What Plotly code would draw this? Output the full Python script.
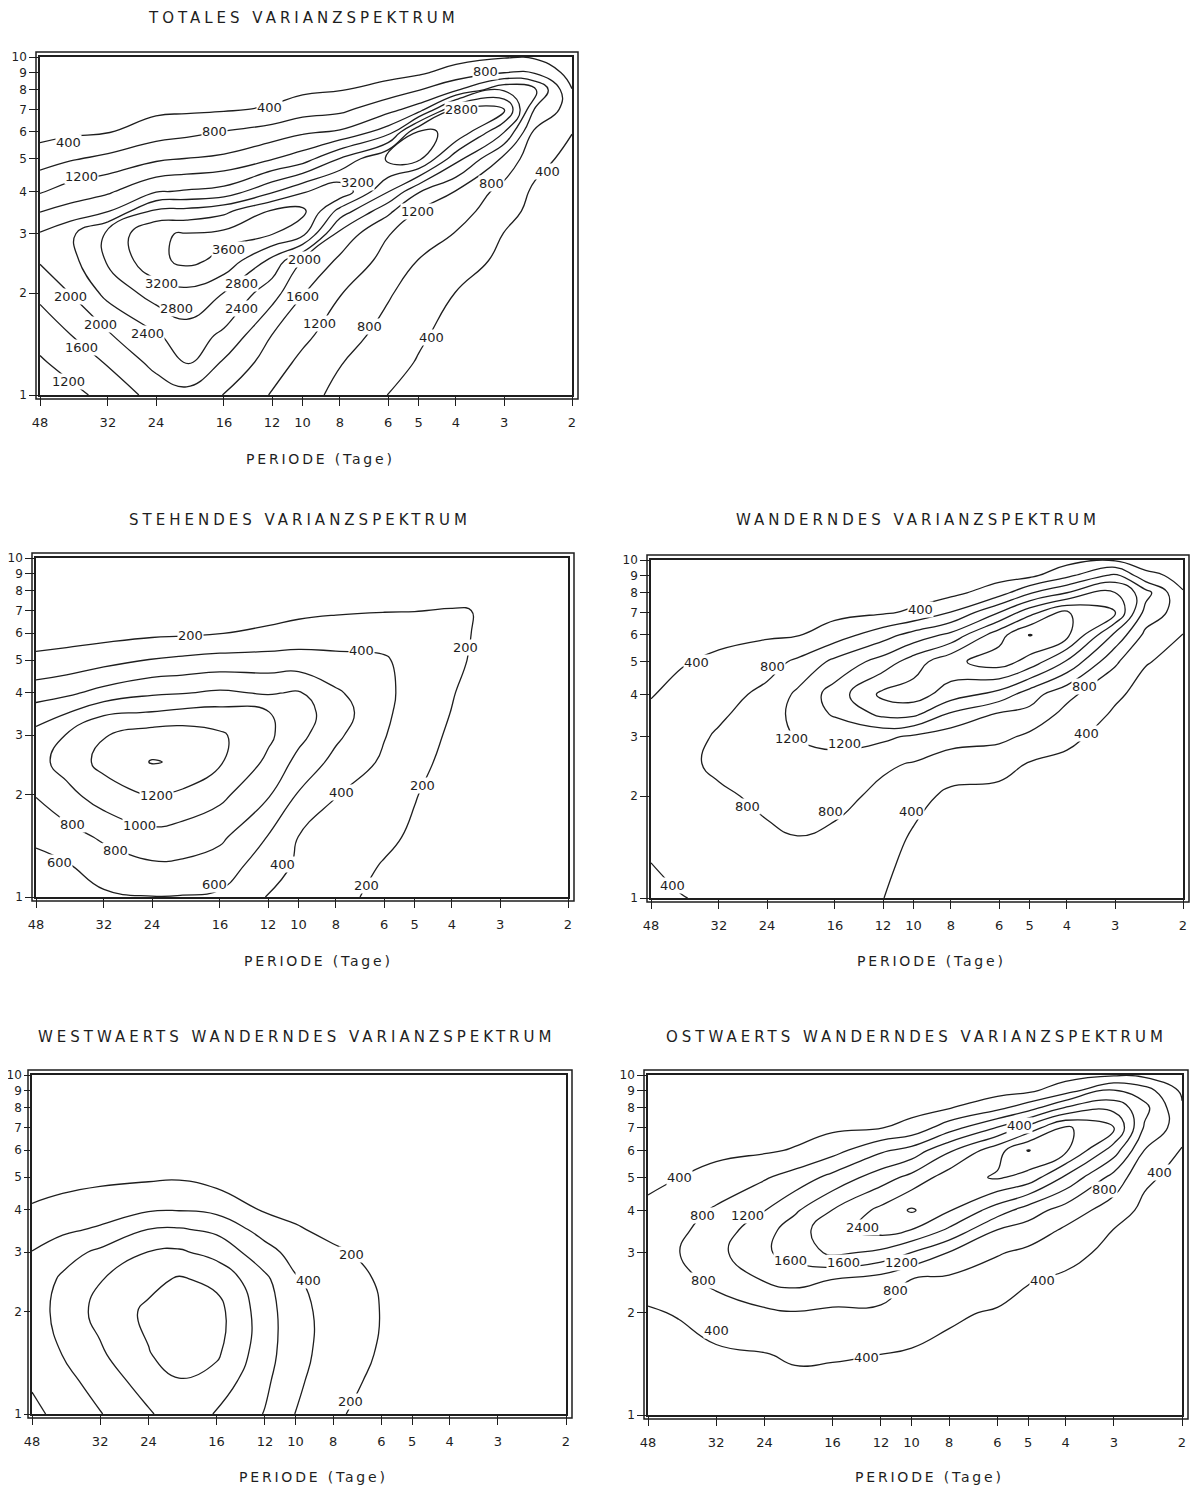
import math
import plotly.graph_objects as go

PAGE_W, PAGE_H = 1199, 1489
BODY_MARGIN = 8                      # default page margin around the plot div
W, H = PAGE_W - BODY_MARGIN, PAGE_H - BODY_MARGIN
INK = "#1e1e1e"
FONT = "DejaVu Sans"

# ---- grid of the spectra (period in days, zonal wavenumber) ----
PERIODS = [48, 40, 32, 24, 20, 16, 12, 10, 8, 6, 5, 4, 3, 2.5, 2]
WAVENUMBERS = [1, 1.25, 1.5, 2, 2.5, 3, 3.5, 4, 5, 6, 7, 8, 9, 10]
PERIOD_TICKS = [48, 32, 24, 16, 12, 10, 8, 6, 5, 4, 3, 2]
WAVE_TICKS = [1, 2, 3, 4, 5, 6, 7, 8, 9, 10]

# each inner list = one period column, values over WAVENUMBERS
TOTAL_COLUMNS = [
    [950, 1150, 1350, 1690, 2040, 2030, 1580, 1160, 610, 260, 200, 130, 80, 50],
    [1080, 1360, 1590, 2010, 2270, 2320, 1750, 1380, 760, 330, 250, 170, 100, 60],
    [1330, 1640, 1950, 2515, 2850, 2880, 1970, 1540, 900, 380, 280, 200, 120, 70],
    [1750, 2130, 2350, 2970, 3500, 3570, 2886, 1967, 1130, 622, 310, 220, 130, 80],
    [1850, 2450, 2620, 3090, 3700, 3620, 2920, 2040, 1210, 695, 330, 240, 140, 90],
    [1590, 1950, 2320, 2790, 3500, 3700, 3100, 2140, 1280, 820, 360, 260, 150, 100],
    [1170, 1400, 1590, 2160, 2690, 3620, 3650, 2740, 1580, 980, 440, 280, 170, 110],
    [950, 1100, 1300, 1620, 1990, 3330, 3700, 3150, 1800, 1140, 620, 320, 190, 120],
    [690, 820, 975, 1220, 1525, 1860, 2650, 3500, 2420, 1250, 700, 380, 220, 140],
    [395, 560, 660, 840, 1054, 1220, 1690, 2420, 3300, 1800, 1070, 575, 250, 160],
    [300, 370, 460, 620, 790, 990, 1180, 1630, 3300, 3250, 1370, 780, 330, 180],
    [150, 200, 250, 390, 610, 780, 990, 1180, 2140, 3150, 2850, 1130, 560, 250],
    [80, 110, 150, 220, 300, 390, 530, 650, 1100, 2010, 2900, 1950, 780, 370],
    [40, 60, 80, 130, 180, 240, 300, 340, 530, 730, 1180, 1650, 750, 350],
    [20, 30, 40, 70, 100, 130, 170, 210, 290, 410, 600, 410, 250, 150],
]

STANDING_COLUMNS = [
    [480, 540, 640, 810, 930, 860, 705, 500, 247, 100, 60, 40, 30, 20],
    [520, 590, 720, 940, 1080, 1010, 790, 560, 270, 120, 70, 50, 35, 25],
    [570, 700, 830, 1100, 1260, 1190, 970, 667, 330, 130, 80, 60, 40, 30],
    [595, 780, 930, 1210, 1410, 1300, 1010, 770, 410, 160, 100, 70, 50, 35],
    [590, 775, 900, 1160, 1380, 1310, 1050, 790, 440, 170, 110, 80, 55, 40],
    [570, 710, 840, 1050, 1220, 1230, 1070, 830, 470, 195, 120, 90, 60, 45],
    [390, 500, 590, 820, 960, 1040, 1010, 780, 480, 230, 140, 100, 70, 50],
    [340, 370, 395, 580, 740, 860, 890, 820, 480, 280, 150, 110, 75, 55],
    [250, 290, 330, 405, 540, 640, 700, 630, 440, 320, 170, 120, 80, 60],
    [150, 190, 240, 320, 370, 410, 440, 450, 420, 320, 190, 140, 100, 70],
    [110, 140, 170, 210, 260, 290, 300, 320, 330, 300, 195, 130, 90, 60],
    [60, 80, 90, 110, 140, 170, 195, 210, 250, 260, 210, 120, 80, 50],
    [30, 35, 40, 45, 50, 55, 60, 70, 90, 110, 185, 110, 80, 50],
    [25, 30, 35, 40, 45, 50, 55, 60, 70, 80, 100, 80, 60, 40],
    [20, 25, 30, 35, 40, 45, 50, 55, 60, 65, 70, 60, 45, 30],
]

TRAVELLING_COLUMNS = [
    [350, 395, 450, 520, 560, 530, 470, 380, 250, 150, 100, 70, 50, 30],
    [390, 480, 560, 640, 680, 640, 580, 520, 370, 230, 140, 90, 60, 40],
    [450, 520, 600, 720, 900, 850, 740, 650, 480, 300, 180, 110, 70, 50],
    [520, 610, 720, 900, 1050, 1080, 1000, 900, 650, 350, 230, 140, 90, 60],
    [580, 680, 790, 950, 1080, 1220, 1330, 1280, 870, 380, 260, 160, 100, 70],
    [560, 650, 730, 900, 1120, 1280, 1650, 1780, 1300, 600, 290, 180, 120, 80],
    [405, 470, 560, 720, 850, 1290, 2100, 2500, 1770, 1030, 350, 220, 140, 90],
    [250, 300, 350, 520, 780, 1130, 2100, 2590, 2200, 1350, 460, 240, 150, 100],
    [150, 180, 220, 320, 590, 980, 1540, 2200, 2700, 1700, 810, 290, 170, 110],
    [150, 180, 220, 300, 520, 900, 1150, 1850, 3000, 2650, 1590, 620, 250, 150],
    [120, 150, 180, 250, 380, 720, 1080, 1380, 2650, 3220, 2250, 1150, 300, 200],
    [120, 150, 180, 250, 330, 470, 680, 900, 1950, 2900, 2850, 1600, 700, 250],
    [90, 110, 130, 170, 220, 280, 350, 460, 860, 1500, 2450, 2050, 1300, 350],
    [60, 70, 90, 110, 140, 180, 220, 280, 420, 700, 1050, 1350, 500, 200],
    [50, 60, 70, 90, 120, 150, 180, 220, 300, 390, 600, 420, 300, 150],
]

WESTWARD_COLUMNS = [
    [360, 420, 470, 500, 480, 405, 310, 215, 140, 90, 60, 40, 30, 20],
    [450, 520, 605, 670, 630, 520, 360, 250, 150, 100, 65, 45, 35, 25],
    [590, 700, 770, 860, 790, 640, 430, 300, 160, 110, 75, 50, 40, 30],
    [780, 880, 990, 1040, 940, 805, 605, 380, 170, 120, 80, 55, 45, 35],
    [890, 990, 1080, 1110, 1020, 830, 620, 390, 180, 125, 85, 60, 45, 35],
    [790, 920, 1030, 1070, 950, 730, 560, 350, 120, 90, 70, 55, 40, 30],
    [590, 640, 680, 690, 640, 480, 313, 180, 100, 80, 60, 50, 40, 30],
    [395, 440, 470, 470, 420, 320, 220, 150, 100, 75, 60, 45, 35, 25],
    [230, 280, 310, 320, 290, 230, 150, 110, 80, 60, 45, 35, 30, 20],
    [120, 150, 180, 195, 180, 140, 110, 90, 70, 50, 40, 30, 25, 20],
    [90, 110, 130, 140, 130, 110, 90, 75, 55, 40, 30, 25, 20, 15],
    [70, 85, 100, 105, 100, 85, 70, 60, 45, 35, 25, 20, 15, 12],
    [50, 60, 70, 75, 70, 60, 50, 45, 35, 25, 20, 15, 12, 10],
    [40, 50, 55, 60, 55, 50, 40, 35, 30, 20, 15, 12, 10, 8],
    [30, 40, 45, 50, 45, 40, 35, 30, 25, 15, 12, 10, 8, 6],
]

EASTWARD_COLUMNS = [
    [150, 200, 260, 370, 520, 600, 560, 470, 320, 200, 120, 80, 50, 30],
    [170, 220, 290, 420, 680, 790, 720, 620, 395, 260, 160, 100, 60, 40],
    [190, 250, 330, 610, 900, 1080, 980, 850, 540, 300, 190, 110, 70, 50],
    [220, 290, 380, 720, 1230, 1540, 1450, 1190, 760, 350, 220, 130, 80, 60],
    [240, 320, 450, 780, 1340, 1760, 1800, 1540, 960, 430, 260, 150, 90, 70],
    [240, 320, 430, 720, 1190, 2080, 2270, 2010, 1320, 650, 330, 180, 110, 80],
    [220, 300, 395, 730, 1030, 1900, 2550, 2500, 1810, 1130, 380, 230, 130, 90],
    [200, 280, 360, 600, 790, 1590, 2390, 2850, 2120, 1350, 520, 280, 150, 100],
    [170, 230, 300, 460, 720, 1180, 1930, 2430, 2600, 1940, 1020, 380, 200, 120],
    [150, 200, 260, 360, 610, 830, 1190, 1800, 2850, 2650, 1620, 700, 250, 150],
    [130, 170, 220, 300, 420, 710, 1030, 1400, 2650, 3220, 2140, 1020, 320, 200],
    [110, 140, 180, 250, 340, 520, 740, 1020, 1930, 2870, 2860, 1640, 620, 250],
    [90, 110, 130, 180, 230, 300, 390, 610, 1050, 1800, 2450, 1880, 1230, 350],
    [60, 70, 90, 110, 150, 190, 240, 300, 480, 790, 1150, 1320, 980, 300],
    [40, 50, 60, 80, 100, 120, 150, 180, 260, 370, 580, 450, 330, 200],
]

# contour labels as printed on the chart: (period, wavenumber, text)
TOTAL_LABELS = [
    (40.6, 5.57, "400"), (12.2, 7.11, "400"), (16.9, 6.04, "800"), (3.36, 9.03, "800"),
    (37.4, 4.44, "1200"), (3.86, 6.97, "2800"), (7.22, 4.24, "3200"), (5.02, 3.50, "1200"),
    (3.23, 4.21, "800"), (2.32, 4.57, "400"), (15.6, 2.70, "3600"), (9.86, 2.51, "2000"),
    (23.2, 2.14, "3200"), (14.4, 2.14, "2800"), (10.0, 1.95, "1600"), (40.1, 1.96, "2000"),
    (21.3, 1.80, "2800"), (14.4, 1.80, "2400"), (33.5, 1.62, "2000"), (9.02, 1.63, "1200"),
    (6.69, 1.60, "800"), (25.2, 1.52, "2400"), (4.62, 1.48, "400"), (37.4, 1.38, "1600"),
    (40.6, 1.10, "1200"),
]
STANDING_LABELS = [
    (19.1, 5.89, "200"), (6.85, 5.32, "400"), (3.68, 5.46, "200"), (23.3, 1.99, "1200"),
    (7.76, 2.04, "400"), (4.78, 2.13, "200"), (38.7, 1.64, "800"), (25.8, 1.63, "1000"),
    (29.8, 1.37, "800"), (41.6, 1.26, "600"), (11.0, 1.25, "400"), (16.5, 1.09, "600"),
    (6.65, 1.08, "200"),
]
TRAVELLING_LABELS = [
    (9.57, 7.16, "400"), (36.5, 4.99, "400"), (23.2, 4.83, "800"), (3.61, 4.21, "800"),
    (20.7, 2.97, "1200"), (15.1, 2.87, "1200"), (3.55, 3.07, "400"), (26.9, 1.86, "800"),
    (16.4, 1.80, "800"), (10.1, 1.80, "400"), (42.1, 1.09, "400"),
]
WESTWARD_LABELS = [
    (7.15, 2.95, "200"), (9.28, 2.47, "400"), (7.23, 1.09, "200"),
]
EASTWARD_LABELS = [
    (5.25, 7.12, "400"), (39.7, 4.98, "400"), (34.8, 3.87, "800"), (26.6, 3.87, "1200"),
    (13.4, 3.55, "2400"), (3.18, 4.62, "800"), (2.28, 5.15, "400"), (20.6, 2.84, "1600"),
    (15.0, 2.80, "1600"), (10.6, 2.80, "1200"), (34.6, 2.48, "800"), (11.0, 2.33, "800"),
    (4.6, 2.48, "400"), (32.0, 1.77, "400"), (13.1, 1.48, "400"),
]

TITLES = [
    "TOTALES VARIANZSPEKTRUM",
    "STEHENDES VARIANZSPEKTRUM",
    "WANDERNDES VARIANZSPEKTRUM",
    "WESTWAERTS WANDERNDES VARIANZSPEKTRUM",
    "OSTWAERTS WANDERNDES VARIANZSPEKTRUM",
]
X_TITLE = "PERIODE (Tage)"
LEVELS = [(400, 3600, 400), (200, 1400, 200), (400, 3200, 400), (200, 1000, 200), (400, 3200, 400)]
PANELS = [TOTAL_COLUMNS, STANDING_COLUMNS, TRAVELLING_COLUMNS, WESTWARD_COLUMNS, EASTWARD_COLUMNS]
PANEL_LABELS = [TOTAL_LABELS, STANDING_LABELS, TRAVELLING_LABELS, WESTWARD_LABELS, EASTWARD_LABELS]

# ---- layout in page pixels (inner plotting frame of each panel) ----
BOXES = [(40, 57, 572, 395), (36, 558, 568, 897), (651, 560, 1183, 898),
         (32, 1075, 566, 1414), (648, 1075, 1182, 1415)]
TITLE_POS = [(303, 18), (300, 520), (918, 520), (296, 1037), (916, 1037)]
XLABEL_POS = [(320, 459), (318, 961), (931, 961), (313, 1477), (929, 1477)]
Y_TICKLEN = [9, 9, 9, 6, 9]


def px(x):
    return (x - BODY_MARGIN) / W


def py(y):
    return 1 - (y - BODY_MARGIN) / H


fig = go.Figure()
layout = dict(
    width=W, height=H, margin=dict(l=0, r=0, t=0, b=0, pad=0), autosize=False,
    paper_bgcolor="white", plot_bgcolor="white", showlegend=False,
    annotations=[], shapes=[],
)

x_asc = PERIODS[::-1]
for i, (cols, (lo, hi, step), box) in enumerate(zip(PANELS, LEVELS, BOXES)):
    n = "" if i == 0 else str(i + 1)
    z = [list(row)[::-1] for row in zip(*cols)]
    fig.add_trace(go.Contour(
        x=x_asc, y=WAVENUMBERS, z=z,
        xaxis="x" + n, yaxis="y" + n,
        contours=dict(start=lo, end=hi, size=step, coloring="none", showlabels=False),
        line=dict(color=INK, width=1.3, smoothing=1.3),
        showscale=False, hoverinfo="skip",
    ))
    x0, y0, x1, y1 = box
    layout["xaxis" + n] = dict(
        domain=[px(x0), px(x1)], anchor="y" + n, type="log", automargin=False,
        range=[math.log10(48), math.log10(2)],
        tickmode="array", tickvals=PERIOD_TICKS, ticktext=[str(t) for t in PERIOD_TICKS],
        ticks="outside", ticklen=9, tickwidth=1, tickcolor=INK, ticklabelstandoff=6,
        showline=True, mirror=True, linecolor=INK, linewidth=1.5,
        showgrid=False, zeroline=False,
        tickfont=dict(family=FONT, size=13, color=INK),
    )
    layout["yaxis" + n] = dict(
        domain=[py(y1), py(y0)], anchor="x" + n, type="log", range=[0, 1], automargin=False,
        tickmode="array", tickvals=WAVE_TICKS, ticktext=[str(t) for t in WAVE_TICKS],
        ticks="outside", ticklen=Y_TICKLEN[i], tickwidth=1, tickcolor=INK,
        showline=True, mirror=True, linecolor=INK, linewidth=1.5,
        showgrid=False, zeroline=False,
        tickfont=dict(family=FONT, size=12, color=INK),
    )
    # outer line of the double frame
    layout["shapes"].append(dict(
        type="rect", xref="paper", yref="paper",
        x0=px(x0 - 4), x1=px(x1 + 6), y0=py(y1 + 4), y1=py(y0 - 5),
        line=dict(color=INK, width=1.5), fillcolor="rgba(0,0,0,0)", layer="above",
    ))
    # contour value labels (horizontal, breaking the line like the original)
    for (per, k, txt) in PANEL_LABELS[i]:
        layout["annotations"].append(dict(
            x=math.log10(per), y=math.log10(k), xref="x" + n, yref="y" + n,
            text=txt, showarrow=False, xanchor="center", yanchor="middle",
            bgcolor="white", borderpad=0,
            font=dict(family=FONT, size=13, color=INK),
        ))
    tx, ty = TITLE_POS[i]
    layout["annotations"].append(dict(
        x=px(tx), y=py(ty), xref="paper", yref="paper", showarrow=False,
        xanchor="center", yanchor="middle",
        text='<span style="letter-spacing:4px">' + TITLES[i] + "</span>",
        font=dict(family=FONT, size=15, color=INK),
    ))
    lx, ly = XLABEL_POS[i]
    layout["annotations"].append(dict(
        x=px(lx), y=py(ly), xref="paper", yref="paper", showarrow=False,
        xanchor="center", yanchor="middle",
        text='<span style="letter-spacing:2.8px">' + X_TITLE + "</span>",
        font=dict(family=FONT, size=14, color=INK),
    ))

fig.update_layout(**layout)
fig.write_html("out.html")
